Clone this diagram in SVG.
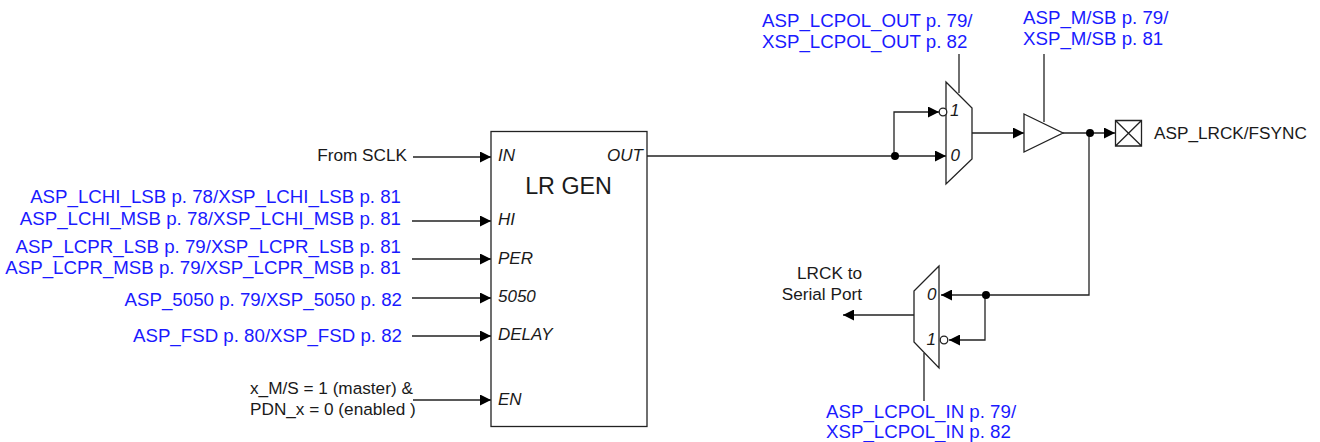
<svg xmlns="http://www.w3.org/2000/svg" width="1320" height="442" viewBox="0 0 1320 442">
<style>
text{font-family:"Liberation Sans",Arial,sans-serif;fill:#1a1a1a;font-size:17.200px}
.b{fill:#1a1aff;font-size:18.700px}
.r{text-anchor:end}
.i{font-style:italic;font-size:17px}
.s{fill:#fff;stroke:#222;stroke-width:1.3}
.l{fill:none;stroke:#222;stroke-width:1.3}
.d{fill:#000}
</style>
<defs>
<marker id="a" markerUnits="userSpaceOnUse" markerWidth="11" markerHeight="11" refX="11" refY="5.500" orient="auto"><path d="M0 0L11 5.500L0 11Z" fill="#000"/></marker>
</defs>
<g id="connectors">
<path class="l" marker-end="url(#a)" d="M413 157H491"/>
<path class="l" marker-end="url(#a)" d="M412 221H491"/>
<path class="l" marker-end="url(#a)" d="M412 259H491"/>
<path class="l" marker-end="url(#a)" d="M412 298H491"/>
<path class="l" marker-end="url(#a)" d="M412 336H491"/>
<path class="l" marker-end="url(#a)" d="M413 400H491"/>
<path class="l" d="M647 156H895"/>
<path class="l" marker-end="url(#a)" d="M895 156H946"/>
<path class="l" marker-end="url(#a)" d="M894 156V112H939"/>
<path class="l" d="M959 54V93"/>
<path class="l" marker-end="url(#a)" d="M972 133H1024"/>
<path class="l" d="M1044 54V122"/>
<path class="l" marker-end="url(#a)" d="M1063 133H1115"/>
<path class="l" marker-end="url(#a)" d="M1089 133V295H941"/>
<path class="l" marker-end="url(#a)" d="M985 295V340H949"/>
<path class="l" marker-end="url(#a)" stroke-width="1.6" d="M914 315H843"/>
<path class="l" d="M924 353V401"/>
<circle class="d" cx="895" cy="156" r="4"/>
<circle class="d" cx="1090" cy="133" r="4"/>
<circle class="d" cx="986" cy="295" r="4"/>
</g>
<g id="lr-gen">
<rect class="s" x="491" y="131.500" width="156" height="295"/>
<text x="568.500" y="194" text-anchor="middle" style="font-size:23.300px">LR GEN</text>
<text class="i" x="498" y="161">IN</text>
<text class="i r" x="643" y="161">OUT</text>
<text class="i" x="498" y="225">HI</text>
<text class="i" x="498" y="264">PER</text>
<text class="i" x="498" y="302">5050</text>
<text class="i" x="498" y="340">DELAY</text>
<text class="i" x="498" y="405">EN</text>
</g>
<g id="inputs">
<text class="r" x="407" y="161">From SCLK</text>
<text class="b r" x="401" y="203">ASP_LCHI_LSB p. 78/XSP_LCHI_LSB p. 81</text>
<text class="b r" x="401" y="225">ASP_LCHI_MSB p. 78/XSP_LCHI_MSB p. 81</text>
<text class="b r" x="401" y="253">ASP_LCPR_LSB p. 79/XSP_LCPR_LSB p. 81</text>
<text class="b r" x="401" y="274">ASP_LCPR_MSB p. 79/XSP_LCPR_MSB p. 81</text>
<text class="b r" x="402" y="306">ASP_5050 p. 79/XSP_5050 p. 82</text>
<text class="b r" x="402" y="342">ASP_FSD p. 80/XSP_FSD p. 82</text>
<text x="250" y="394">x_M/S = 1 (master) &amp;</text>
<text x="250" y="415">PDN_x = 0 (enabled )</text>
</g>
<g id="mux-out">
<path class="s" d="M946 82L972 108V159L946 184Z"/>
<circle class="s" cx="943" cy="112" r="3.800"/>
<text class="i" x="950" y="116">1</text>
<text class="i" x="950.500" y="161">0</text>
<text class="b" x="762" y="27">ASP_LCPOL_OUT p. 79/</text>
<text class="b" x="762" y="48">XSP_LCPOL_OUT p. 82</text>
</g>
<g id="buffer">
<path class="s" d="M1024 114L1063 133L1024 152Z"/>
<text class="b" x="1023" y="24">ASP_M/SB p. 79/</text>
<text class="b" x="1023" y="45">XSP_M/SB p. 81</text>
</g>
<g id="pin">
<path class="s" d="M1115.500 120.500H1141.500V146H1115.500ZM1115.500 120.500L1141.500 146M1141.500 120.500L1115.500 146"/>
<text x="1154" y="139">ASP_LRCK/FSYNC</text>
</g>
<g id="mux-in">
<path class="s" d="M939 266L914 291V342L939 368Z"/>
<circle class="s" cx="944" cy="340" r="3.800"/>
<text class="i" x="927" y="300">0</text>
<text class="i" x="926.500" y="345">1</text>
<text class="r" x="862" y="279">LRCK to</text>
<text class="r" x="862" y="300">Serial Port</text>
<text class="b" x="826" y="417.500">ASP_LCPOL_IN p. 79/</text>
<text class="b" x="826" y="438">XSP_LCPOL_IN p. 82</text>
</g>
</svg>
